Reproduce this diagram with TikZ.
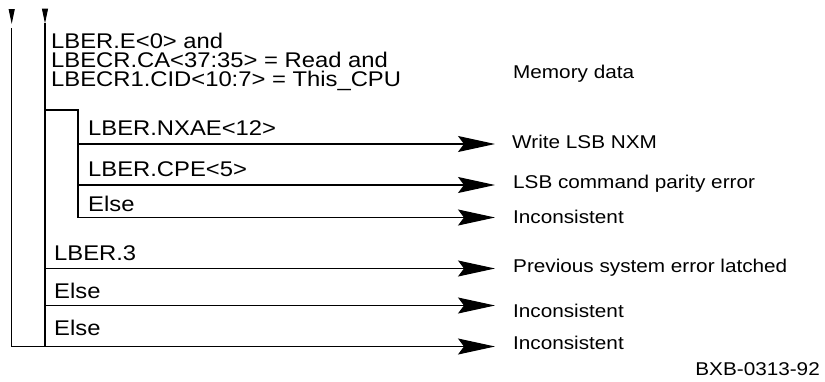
\documentclass[tikz,border=0pt]{standalone}
\usepackage{fontspec}
\setmainfont{Liberation Sans}
\newfontfamily\figfont[FakeStretch=1.12]{Liberation Sans}
\usetikzlibrary{positioning,arrows.meta}
\tikzset{
  bar/.style={line width=1.1pt},
  flow/.style={-{Stealth[length=37pt, width=16pt, inset=6pt]}, line width=1.1pt},
  inflow/.style={-{Triangle[length=15pt, width=6pt]}, line width=1pt},
  cond/.style={anchor=base west, inner sep=0pt, align=left,
               font=\figfont\fontsize{21.25}{19}\selectfont},
  result/.style={anchor=base west, inner sep=0pt,
                 font=\figfont\fontsize{18.5}{20}\selectfont},
}

\begin{document}
\begin{tikzpicture}[x=1pt, y=-1pt]
  \useasboundingbox (0,0) rectangle (825,381);

  % incoming flows from the previous page
  \coordinate (in1) at (11.7,9);
  \coordinate (in1e) at (11.7,24);
  \coordinate (in2) at (45,9);
  \coordinate (in2e) at (45,23.5);
  \draw[inflow] (in1) -- (in1e);
  \draw[inflow] (in2) -- (in2e);

  % branch rows: start on the bar, end before the result text
  \foreach \n/\x/\y in {1/78/144, 2/78/185, 3/78/217.5,
                        4/45/268.5, 5/45/305.5, 6/11.7/346.5} {
    \coordinate (s\n) at (\x,\y);
    \coordinate (e\n) at (495,\y);
  }

  \coordinate (o1) at (11.7,28);
  \coordinate (o2) at (45,23);
  \coordinate (o2b) at (45,346.5);
  \coordinate (k1) at (45,110);
  \coordinate (k2) at (78,110);

  \draw[bar] (o1) -- (s6);
  \draw[bar] (o2) -- (o2b);
  \draw[bar] (k1) -- (k2) -- (s3);

  \foreach \n in {1,...,6}
    \draw[flow] (s\n) -- (e\n);

  % conditions (base of a multi-line node is its last line)
  \node[cond] (c0) at (51,86.5) {LBER.E<0> and\\
    LBECR.CA<37:35> = Read and\\
    LBECR1.CID<10:7> = This\_CPU};
  \node[cond] (c1) at (88,135) {LBER.NXAE<12>};
  \node[cond] (c2) at (88,176) {LBER.CPE<5>};
  \node[cond] (c3) at (88,211.5) {Else};
  \node[cond] (c4) at (54,260.5) {LBER.3};
  \node[cond] (c5) at (54,298) {Else};
  \node[cond] (c6) at (54,335) {Else};

  % results
  \node[result] (r0) at (513,78.5) {Memory data};
  \node[result] (r1) at (512,148.5) {Write LSB NXM};
  \node[result] (r2) at (513,188.5) {LSB command parity error};
  \node[result] (r3) at (513,223) {Inconsistent};
  \node[result] (r4) at (513,272.5) {Previous system error latched};
  \node[result] (r5) at (513,317) {Inconsistent};
  \node[result] (r6) at (513,349) {Inconsistent};

  \node[result, anchor=base east] (fig) at (820,375.5) {BXB-0313-92};
\end{tikzpicture}
\end{document}
